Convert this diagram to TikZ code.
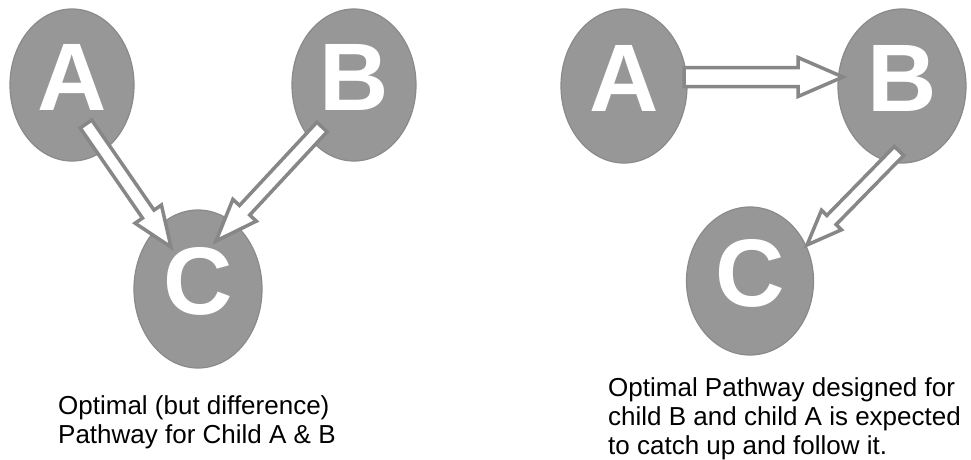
\documentclass[tikz,border=0pt]{standalone}
\usepackage{fontspec}
\setmainfont{Liberation Sans}
\usetikzlibrary{calc,shapes.geometric}
\definecolor{nodefill}{HTML}{979797}
\definecolor{nodeborder}{HTML}{8A8A8A}
\definecolor{arrowgray}{HTML}{878787}
\tikzset{
  bubble/.style={ellipse, fill=nodefill, draw=nodeborder, line width=1.2pt,
    inner sep=0pt, text=white, font=\fontsize{96}{96}\selectfont\bfseries,
    text height=69pt, text depth=18pt},
  blockarrow/.style={draw=arrowgray, fill=white, line width=3.5pt, line join=miter},
  captionline/.style={anchor=base west, inner sep=0pt, font=\fontsize{26}{30}\selectfont}
}
\newcommand\blockarrowdraw[5]{%
  \coordinate (hb) at ($(#2)!#5!(#1)$);
  \draw[blockarrow] ($(#1)!#3!90:(#2)$) -- ($(hb)!#3!90:(#2)$) -- ($(hb)!#4!90:(#2)$)
    -- (#2) -- ($(hb)!#4!-90:(#2)$) -- ($(hb)!#3!-90:(#2)$) -- ($(#1)!#3!-90:(#2)$) -- cycle;
}
\begin{document}
\begin{tikzpicture}[x=1pt,y=-1pt]
\useasboundingbox (0,0) rectangle (971,460);
% left diagram
\node[bubble, minimum width=124pt, minimum height=152pt] (lA) at (72,85) {A};
\node[bubble, minimum width=124pt, minimum height=152pt] (lB) at (354,85) {B};
\node[bubble, minimum width=128pt, minimum height=158pt] (lC) at (198,289) {C};
\coordinate (lAt) at (86,124);
\coordinate (lAh) at (171,247);
\coordinate (lBt) at (322,127);
\coordinate (lBh) at (216,241);
\blockarrowdraw{lAt}{lAh}{7pt}{16pt}{40pt}
\blockarrowdraw{lBt}{lBh}{7pt}{16pt}{42pt}
% right diagram
\node[bubble, minimum width=126pt, minimum height=154pt] (rA) at (624,86) {A};
\node[bubble, minimum width=128pt, minimum height=154pt] (rB) at (902,86) {B};
\node[bubble, minimum width=127pt, minimum height=148pt] (rC) at (750,281) {C};
\coordinate (rAt) at (684,77);
\coordinate (rBh) at (843,77);
\coordinate (rBt) at (899,151);
\coordinate (rCh) at (807,245);
\blockarrowdraw{rAt}{rBh}{9.5pt}{19.5pt}{45pt}
\blockarrowdraw{rBt}{rCh}{6.5pt}{14pt}{35pt}
% captions
\node[captionline] (lcap1) at (58,414) {Optimal (but difference)};
\node[captionline] (lcap2) at (58,443) {Pathway for Child A \& B};
\node[captionline] (rcap1) at (608,396) {Optimal Pathway designed for};
\node[captionline] (rcap2) at (608,425) {child B and child A is expected};
\node[captionline] (rcap3) at (608,454) {to catch up and follow it.};
\end{tikzpicture}
\end{document}
